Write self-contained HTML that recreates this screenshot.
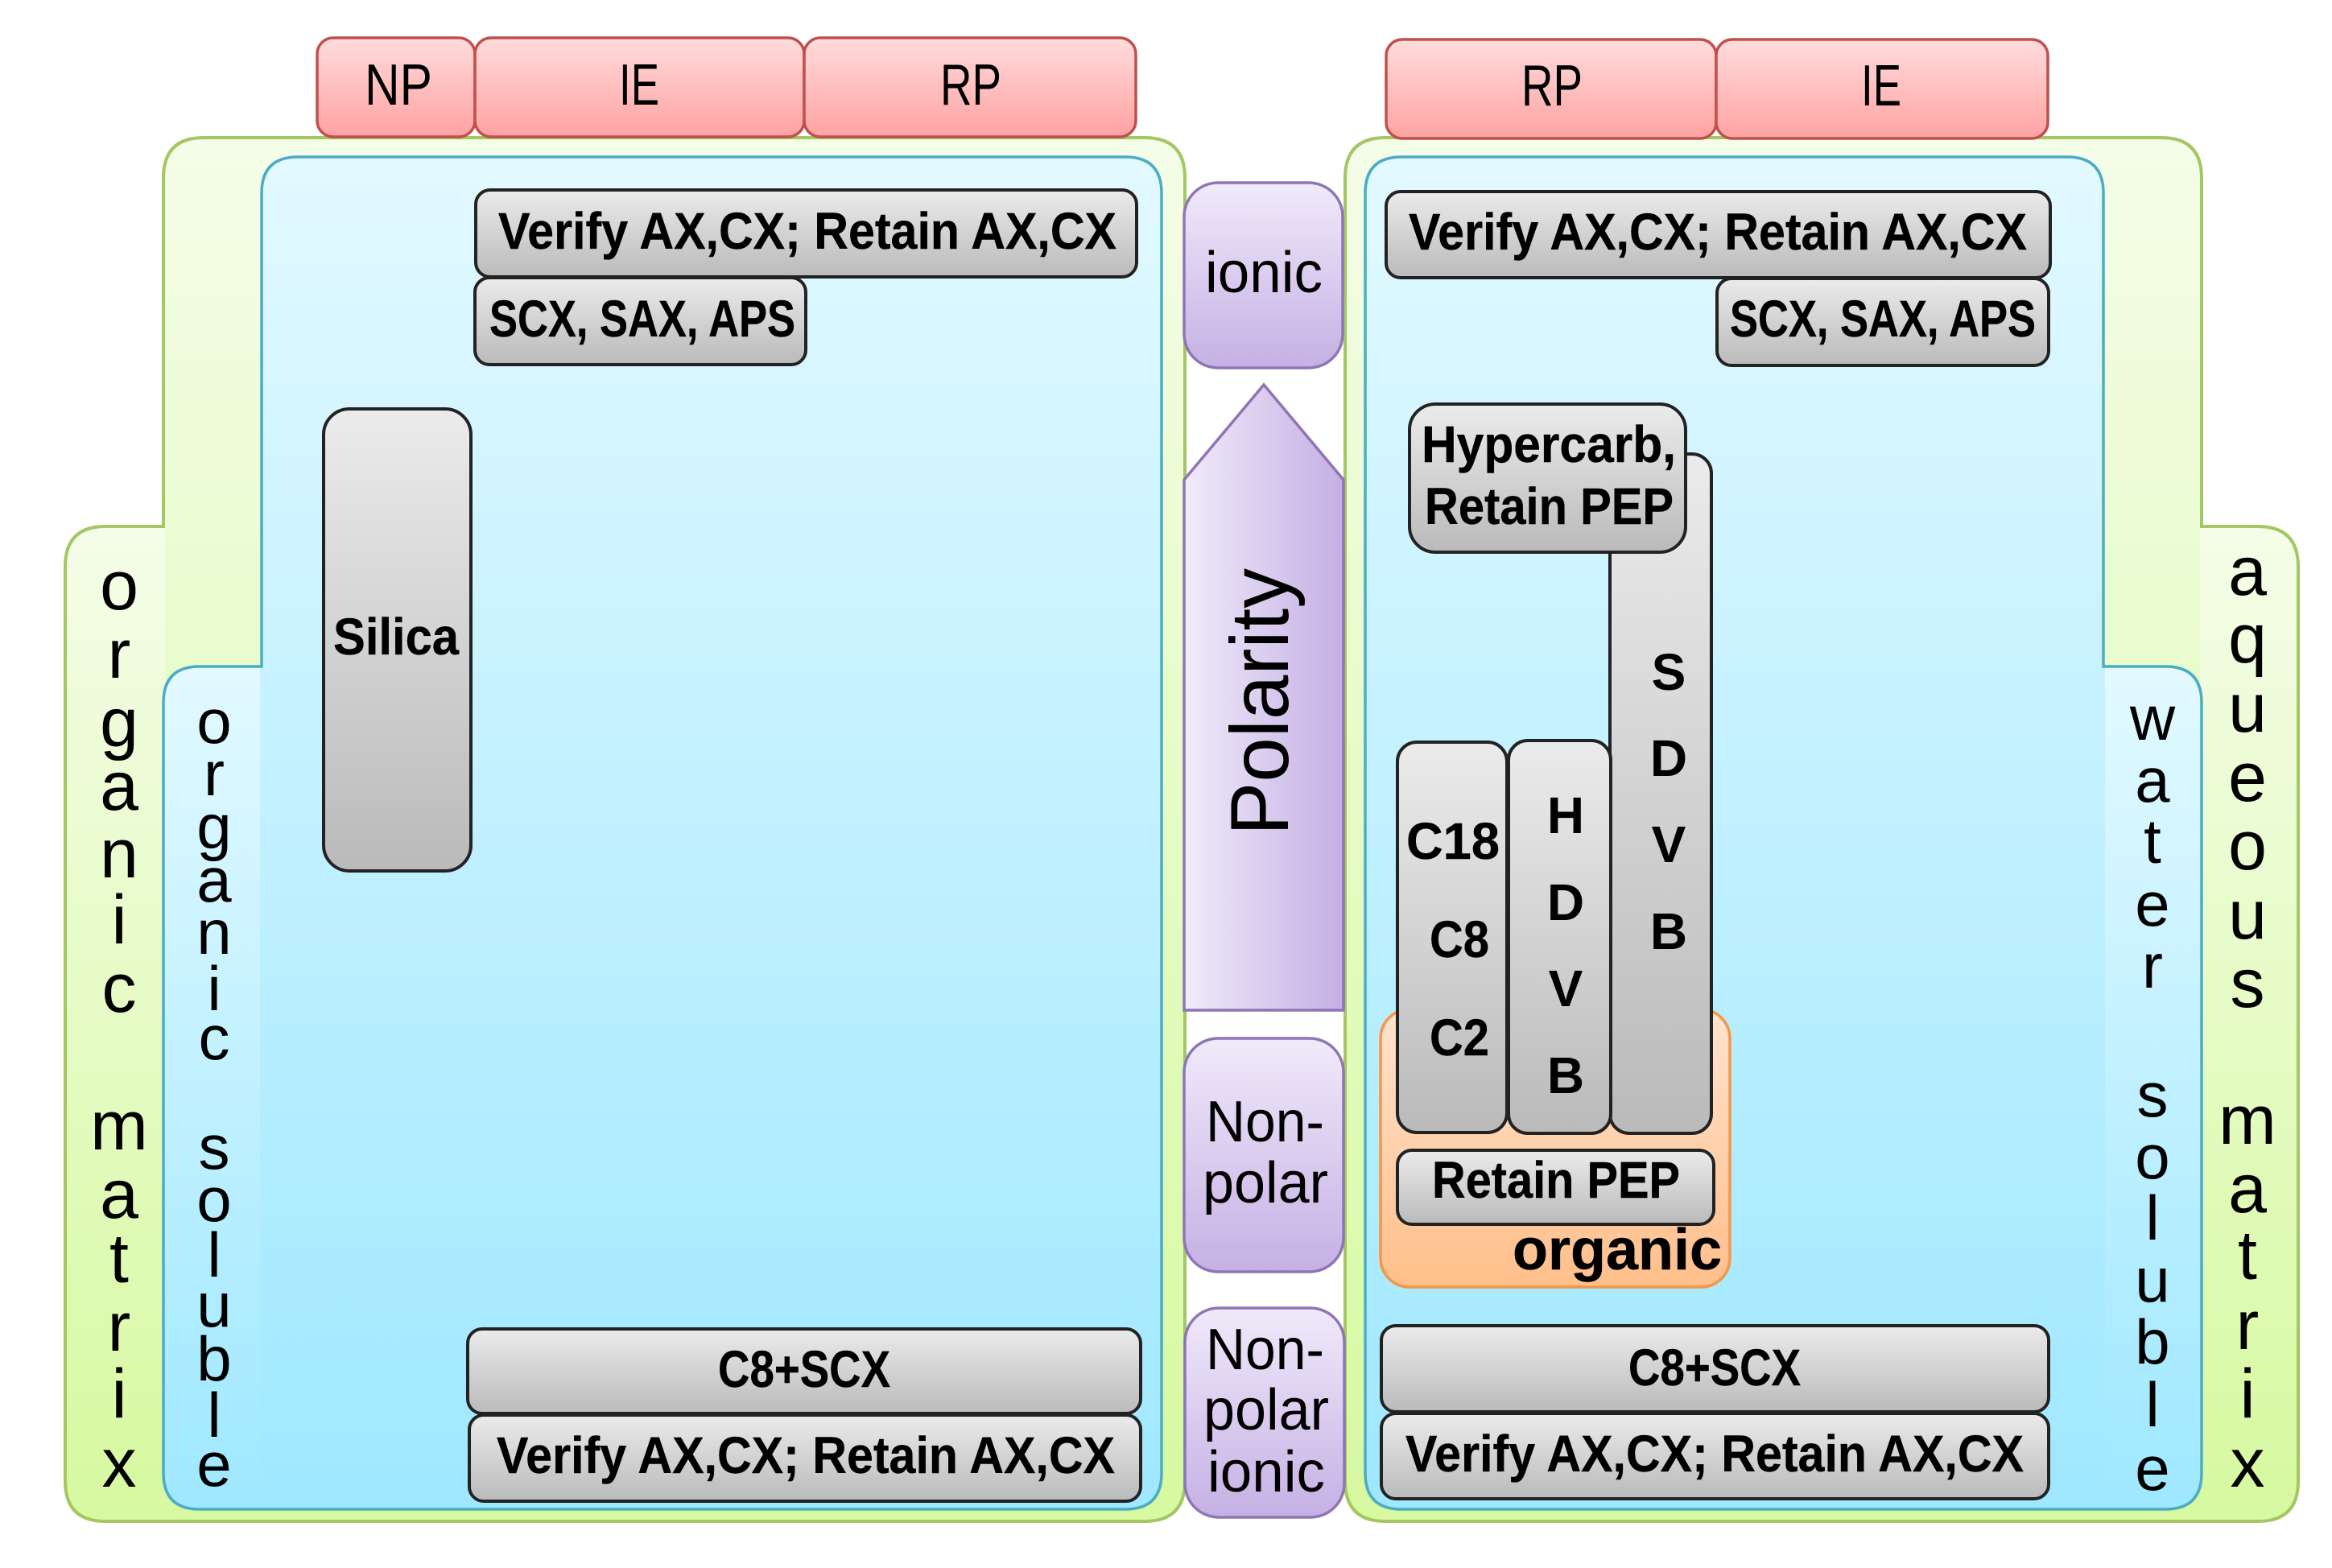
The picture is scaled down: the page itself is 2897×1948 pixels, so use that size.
<!DOCTYPE html>
<html><head><meta charset="utf-8"><style>
html,body{margin:0;padding:0;background:#fff}
svg{display:block}
text{font-family:"Liberation Sans",sans-serif;fill:#000}
.b{font-weight:bold;font-size:64px;stroke:#000;stroke-width:.4px}
.h{font-size:72px}
.l{font-size:86px;text-anchor:middle}
.s{font-size:78px;text-anchor:middle}
.c{font-weight:bold;font-size:64px;text-anchor:middle}
.p{font-size:72px}
.g{fill:url(#gray);stroke:#222;stroke-width:4}
.r{fill:url(#red);stroke:#c0504d;stroke-width:3.5}
.v{fill:url(#pur);stroke:#8f75b5;stroke-width:3.5}
</style></head><body>
<svg width="2897" height="1948" viewBox="0 0 2897 1948" xmlns="http://www.w3.org/2000/svg">
<defs>
<linearGradient id="gray" x1="0" y1="0" x2="0" y2="1"><stop offset="0" stop-color="#ebebeb"/><stop offset="1" stop-color="#bababa"/></linearGradient>
<linearGradient id="red" x1="0" y1="0" x2="0" y2="1"><stop offset="0" stop-color="#ffdcdc"/><stop offset="1" stop-color="#ffa2a2"/></linearGradient>
<linearGradient id="pur" x1="0" y1="0" x2="0" y2="1"><stop offset="0" stop-color="#f0eafa"/><stop offset="1" stop-color="#c5b0e4"/></linearGradient>
<linearGradient id="arrow" x1="0" y1="0" x2="1" y2="0"><stop offset="0" stop-color="#f0ebfa"/><stop offset="1" stop-color="#c4afe3"/></linearGradient>
<linearGradient id="gm" gradientUnits="userSpaceOnUse" x1="0" y1="171" x2="0" y2="1890"><stop offset="0" stop-color="#f4fde8"/><stop offset="1" stop-color="#d7f9a0"/></linearGradient>
<linearGradient id="gt" gradientUnits="userSpaceOnUse" x1="0" y1="654" x2="0" y2="1890"><stop offset="0" stop-color="#f4fde8"/><stop offset="1" stop-color="#d7f9a0"/></linearGradient>
<linearGradient id="bm" gradientUnits="userSpaceOnUse" x1="0" y1="195" x2="0" y2="1875"><stop offset="0" stop-color="#e2f9ff"/><stop offset="1" stop-color="#9fe8ff"/></linearGradient>
<linearGradient id="bt" gradientUnits="userSpaceOnUse" x1="0" y1="828" x2="0" y2="1875"><stop offset="0" stop-color="#e2f9ff"/><stop offset="1" stop-color="#9fe8ff"/></linearGradient>
<linearGradient id="org" gradientUnits="userSpaceOnUse" x1="0" y1="1253" x2="0" y2="1599"><stop offset="0" stop-color="#ffe3cf"/><stop offset="1" stop-color="#ffbf8a"/></linearGradient>
</defs>

<!-- left containers -->
<path d="M203 654V221Q203 171 253 171H1422Q1472 171 1472 221V1840Q1472 1890 1422 1890H131Q81 1890 81 1840V704Q81 654 131 654Z" fill="url(#gm)"/>
<path d="M205 654H131Q81 654 81 704V1840Q81 1890 131 1890H205Z" fill="url(#gt)"/>
<path d="M203 654V221Q203 171 253 171H1422Q1472 171 1472 221V1840Q1472 1890 1422 1890H131Q81 1890 81 1840V704Q81 654 131 654Z" fill="none" stroke="#a3c763" stroke-width="4"/>
<path d="M325 828V240Q325 195 370 195H1398Q1443 195 1443 240V1830Q1443 1875 1398 1875H248Q203 1875 203 1830V873Q203 828 248 828Z" fill="url(#bm)"/>
<path d="M323 828H248Q203 828 203 873V1830Q203 1875 248 1875H323Z" fill="url(#bt)"/>
<path d="M325 828V240Q325 195 370 195H1398Q1443 195 1443 240V1830Q1443 1875 1398 1875H248Q203 1875 203 1830V873Q203 828 248 828Z" fill="none" stroke="#4bacc6" stroke-width="3.5"/>

<!-- right containers -->
<path d="M2735 654V221Q2735 171 2685 171H1721Q1671 171 1671 221V1840Q1671 1890 1721 1890H2805Q2855 1890 2855 1840V704Q2855 654 2805 654Z" fill="url(#gm)"/>
<path d="M2733 654H2805Q2855 654 2855 704V1840Q2855 1890 2805 1890H2733Z" fill="url(#gt)"/>
<path d="M2735 654V221Q2735 171 2685 171H1721Q1671 171 1671 221V1840Q1671 1890 1721 1890H2805Q2855 1890 2855 1840V704Q2855 654 2805 654Z" fill="none" stroke="#a3c763" stroke-width="4"/>
<path d="M2613 828V240Q2613 195 2568 195H1741Q1696 195 1696 240V1830Q1696 1875 1741 1875H2690Q2735 1875 2735 1830V873Q2735 828 2690 828Z" fill="url(#bm)"/>
<path d="M2615 828H2690Q2735 828 2735 873V1830Q2735 1875 2690 1875H2615Z" fill="url(#bt)"/>
<path d="M2613 828V240Q2613 195 2568 195H1741Q1696 195 1696 240V1830Q1696 1875 1741 1875H2690Q2735 1875 2735 1830V873Q2735 828 2690 828Z" fill="none" stroke="#4bacc6" stroke-width="3.5"/>

<!-- red headers -->
<rect class="r" x="394" y="47" width="196" height="123" rx="20"/>
<rect class="r" x="590" y="47" width="409" height="123" rx="20"/>
<rect class="r" x="999" y="47" width="412" height="123" rx="20"/>
<rect class="r" x="1722" y="49" width="410" height="123" rx="20"/>
<rect class="r" x="2132" y="49" width="412" height="123" rx="20"/>
<text class="h" x="453" y="130" textLength="84" lengthAdjust="spacingAndGlyphs">NP</text>
<text class="h" x="769" y="130" textLength="50" lengthAdjust="spacingAndGlyphs">IE</text>
<text class="h" x="1168" y="130" textLength="76" lengthAdjust="spacingAndGlyphs">RP</text>
<text class="h" x="1890" y="131" textLength="76" lengthAdjust="spacingAndGlyphs">RP</text>
<text class="h" x="2312" y="131" textLength="50" lengthAdjust="spacingAndGlyphs">IE</text>

<!-- left gray -->
<rect class="g" x="591" y="236" width="821" height="108" rx="18"/>
<rect class="g" x="590" y="345" width="411" height="108" rx="18"/>
<rect class="g" x="402" y="508" width="183" height="574" rx="32"/>
<rect class="g" x="581" y="1651" width="836" height="105" rx="18"/>
<rect class="g" x="583" y="1758" width="834" height="107" rx="18"/>
<text class="b" x="619" y="309" textLength="768" lengthAdjust="spacingAndGlyphs">Verify AX,CX; Retain AX,CX</text>
<text class="b" x="608" y="418" textLength="380" lengthAdjust="spacingAndGlyphs">SCX, SAX, APS</text>
<text class="b" x="414" y="813" textLength="156" lengthAdjust="spacingAndGlyphs">Silica</text>
<text class="b" x="892" y="1723" textLength="214" lengthAdjust="spacingAndGlyphs">C8+SCX</text>
<text class="b" x="617" y="1830" textLength="768" lengthAdjust="spacingAndGlyphs">Verify AX,CX; Retain AX,CX</text>

<!-- center -->
<rect class="v" x="1471" y="227" width="197" height="230" rx="42"/>
<path d="M1471 596L1570 478L1669 596V1255H1471Z" fill="url(#arrow)" stroke="#8f75b5" stroke-width="3.5"/>
<rect class="v" x="1471" y="1290" width="198" height="290" rx="42"/>
<rect class="v" x="1472" y="1625" width="198" height="260" rx="42"/>
<text class="p" x="1497" y="363" textLength="146" lengthAdjust="spacingAndGlyphs">ionic</text>
<text x="1600" y="1038" font-size="102" transform="rotate(-90 1600 1038)" textLength="332" lengthAdjust="spacingAndGlyphs">Polarity</text>
<text class="p" x="1498" y="1418" textLength="147" lengthAdjust="spacingAndGlyphs">Non-</text>
<text class="p" x="1494" y="1494" textLength="156" lengthAdjust="spacingAndGlyphs">polar</text>
<text class="p" x="1498" y="1701" textLength="147" lengthAdjust="spacingAndGlyphs">Non-</text>
<text class="p" x="1495" y="1776" textLength="156" lengthAdjust="spacingAndGlyphs">polar</text>
<text class="p" x="1500" y="1853" textLength="146" lengthAdjust="spacingAndGlyphs">ionic</text>

<!-- right gray -->
<rect x="1715" y="1254" width="434" height="345" rx="36" fill="url(#org)" stroke="#f79646" stroke-width="3.5"/>
<rect class="g" x="1722" y="238" width="825" height="107" rx="18"/>
<rect class="g" x="2133" y="346" width="412" height="108" rx="18"/>
<rect class="g" x="2000" y="564" width="126" height="844" rx="24"/>
<rect class="g" x="1736" y="922" width="136" height="485" rx="24"/>
<rect class="g" x="1874" y="920" width="127" height="488" rx="24"/>
<rect class="g" x="1751" y="502" width="343" height="184" rx="32"/>
<rect class="g" x="1736" y="1429" width="393" height="92" rx="18"/>
<rect class="g" x="1716" y="1647" width="829" height="107" rx="18"/>
<rect class="g" x="1716" y="1756" width="829" height="106" rx="18"/>
<text class="b" x="1750" y="310" textLength="768" lengthAdjust="spacingAndGlyphs">Verify AX,CX; Retain AX,CX</text>
<text class="b" x="2149" y="418" textLength="380" lengthAdjust="spacingAndGlyphs">SCX, SAX, APS</text>
<text class="b" x="1766" y="574" textLength="316" lengthAdjust="spacingAndGlyphs">Hypercarb,</text>
<text class="b" x="1770" y="651" textLength="309" lengthAdjust="spacingAndGlyphs">Retain PEP</text>
<text class="c" x="2073" y="857">S</text>
<text class="c" x="2073" y="964">D</text>
<text class="c" x="2073" y="1071">V</text>
<text class="c" x="2073" y="1179">B</text>
<text class="c" x="1945" y="1035">H</text>
<text class="c" x="1945" y="1143">D</text>
<text class="c" x="1945" y="1250">V</text>
<text class="c" x="1945" y="1358">B</text>
<text class="b" x="1747" y="1067" textLength="116" lengthAdjust="spacingAndGlyphs">C18</text>
<text class="b" x="1776" y="1189" textLength="74" lengthAdjust="spacingAndGlyphs">C8</text>
<text class="b" x="1776" y="1311" textLength="74" lengthAdjust="spacingAndGlyphs">C2</text>
<text class="b" x="1779" y="1488" textLength="308" lengthAdjust="spacingAndGlyphs">Retain PEP</text>
<text class="b" x="1879" y="1577" textLength="260" lengthAdjust="spacingAndGlyphs" style="font-size:72px">organic</text>
<text class="b" x="2023" y="1721" textLength="214" lengthAdjust="spacingAndGlyphs">C8+SCX</text>
<text class="b" x="1746" y="1828" textLength="768" lengthAdjust="spacingAndGlyphs">Verify AX,CX; Retain AX,CX</text>

<!-- organic matrix -->
<text class="l" x="148" y="757">o</text><text class="l" x="148" y="842">r</text><text class="l" x="148" y="927">g</text><text class="l" x="148" y="1006">a</text><text class="l" x="148" y="1090">n</text><text class="l" x="148" y="1172">i</text><text class="l" x="148" y="1257">c</text>
<text class="l" x="148" y="1428">m</text><text class="l" x="148" y="1513">a</text><text class="l" x="148" y="1593">t</text><text class="l" x="148" y="1678">r</text><text class="l" x="148" y="1761">i</text><text class="l" x="148" y="1847">x</text>
<!-- organic soluble -->
<text class="s" x="266" y="923">o</text><text class="s" x="266" y="988">r</text><text class="s" x="266" y="1054">g</text><text class="s" x="266" y="1120">a</text><text class="s" x="266" y="1185">n</text><text class="s" x="266" y="1255">i</text><text class="s" x="266" y="1316">c</text>
<text class="s" x="266" y="1452">s</text><text class="s" x="266" y="1517">o</text><text class="s" x="266" y="1586">l</text><text class="s" x="266" y="1648">u</text><text class="s" x="266" y="1715">b</text><text class="s" x="266" y="1785">l</text><text class="s" x="266" y="1846">e</text>
<!-- water soluble -->
<text class="s" x="2674" y="919">w</text><text class="s" x="2674" y="996">a</text><text class="s" x="2674" y="1072">t</text><text class="s" x="2674" y="1150">e</text><text class="s" x="2674" y="1227">r</text>
<text class="s" x="2674" y="1387">s</text><text class="s" x="2674" y="1464">o</text><text class="s" x="2674" y="1540">l</text><text class="s" x="2674" y="1617">u</text><text class="s" x="2674" y="1694">b</text><text class="s" x="2674" y="1772">l</text><text class="s" x="2674" y="1851">e</text>
<!-- aqueous matrix -->
<text class="l" x="2792" y="739">a</text><text class="l" x="2792" y="823">q</text><text class="l" x="2792" y="909">u</text><text class="l" x="2792" y="995">e</text><text class="l" x="2792" y="1080">o</text><text class="l" x="2792" y="1166">u</text><text class="l" x="2792" y="1251">s</text>
<text class="l" x="2792" y="1421">m</text><text class="l" x="2792" y="1506">a</text><text class="l" x="2792" y="1589">t</text><text class="l" x="2792" y="1676">r</text><text class="l" x="2792" y="1761">i</text><text class="l" x="2792" y="1847">x</text>
</svg>
</body></html>
